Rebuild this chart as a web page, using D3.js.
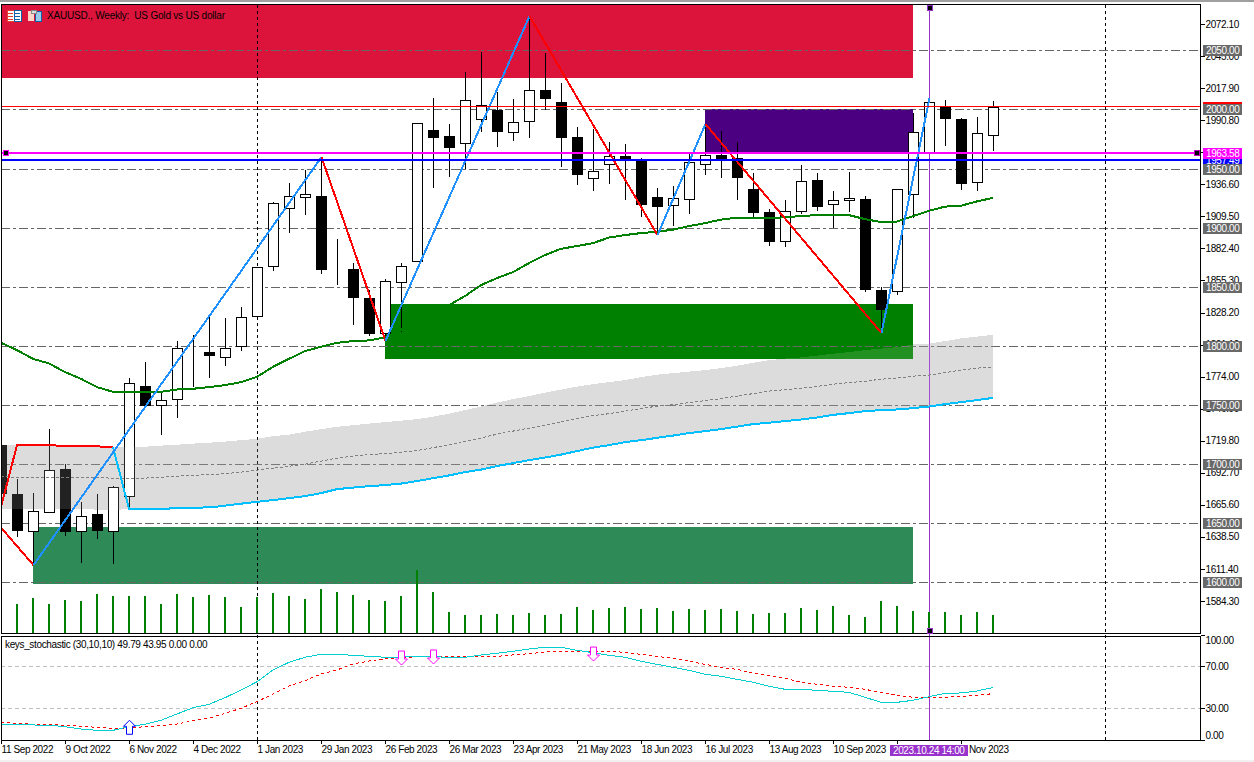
<!DOCTYPE html>
<html>
<head>
<meta charset="utf-8">
<script src="https://cdnjs.cloudflare.com/ajax/libs/d3/7.8.5/d3.min.js"></script>
<style>
    html, body { margin: 0; padding: 0; background: #fff; overflow: hidden; }
    text { font-family: "Liberation Sans", sans-serif; font-size: 10px; letter-spacing: -0.4px; }
    .axis text { font-family: "Liberation Sans", sans-serif; font-size: 10px; fill: #000; }
    .crisp { shape-rendering: crispEdges; }
</style>
</head>
<body>
<div id="chart"></div>
<script>
const opens = [1716.0,1674.6,1643.0,1659.1,1695.7,1643.8,1657.6,1643.0,1673.4,1765.9,1749.2,1754.6,1796.1,1794.7,1790.2,1799.8,1824.9,1867.2,1916.3,1925.6,1926.7,1864.7,1864.9,1840.1,1810.8,1853.7,1871.4,1982.3,1977.4,1971.2,1991.5,1999.4,1980.5,1989.8,2016.3,2006.2,1976.6,1941.6,1953.5,1960.5,1956.5,1925.8,1918.8,1923.5,1953.5,1961.3,1958.5,1932.3,1912.9,1888.3,1913.7,1940.0,1919.6,1922.7,1923.9,1847.2,1846.1,1928.1,1964.1,2002.6,1991.5,1937.9,1977.7]
const highs = [1716.0,1687.2,1675.4,1729.3,1699.9,1667.8,1674.6,1681.3,1772.4,1786.2,1761.1,1804.0,1809.6,1824.0,1823.4,1832.7,1866.3,1921.6,1937.7,1948.7,1958.8,1890.3,1869.7,1847.2,1856.2,1869.7,1988.2,2009.6,1987.6,2031.6,2048.5,2014.9,2008.7,2078.9,2047.4,2022.0,1985.0,1983.3,1972.3,1970.6,1958.5,1933.4,1935.1,1962.2,1987.3,1981.6,1972.1,1946.1,1915.4,1923.3,1952.9,1946.1,1930.9,1947.0,1926.4,1849.4,1932.3,1996.6,2009.3,2007.9,1992.7,1993.5,2007.0]
const lows = [1675.4,1638.4,1614.5,1659.1,1639.0,1616.4,1636.7,1615.6,1662.1,1749.6,1724.7,1739.1,1764.8,1772.9,1783.1,1795.8,1824.9,1863.5,1895.6,1910.9,1860.7,1851.4,1817.8,1808.2,1804.2,1811.4,1871.4,1933.7,1943.0,1949.5,1981.0,1968.4,1973.4,1976.0,1999.7,1951.5,1936.2,1931.1,1937.0,1923.5,1909.1,1893.7,1901.5,1911.7,1944.7,1942.1,1923.5,1908.6,1884.6,1883.8,1911.7,1914.2,1899.8,1913.4,1845.7,1810.5,1843.2,1907.8,1964.1,1969.2,1931.7,1930.9,1964.7]
const closes = [1675.4,1644.4,1659.9,1694.6,1643.5,1656.5,1644.4,1680.2,1769.0,1749.6,1753.8,1797.8,1796.1,1792.4,1797.8,1824.0,1866.3,1920.5,1926.4,1928.1,1865.2,1864.7,1841.5,1810.2,1854.5,1867.2,1988.2,1976.8,1968.4,2007.6,2003.4,1981.9,1989.0,2016.1,2009.8,1976.8,1945.5,1947.5,1960.2,1957.7,1920.1,1918.4,1924.7,1955.2,1961.1,1957.7,1942.1,1912.5,1888.0,1913.7,1939.1,1917.6,1923.0,1924.7,1847.8,1831.1,1932.3,1980.5,2006.0,1992.1,1937.0,1979.7,2001.7]

// tick volume, thousands, first bar has none on screen
const volumes = [0,29,35,29,33,32,39,37,37,37,29,39,36,38,36,26,36,40,37,34,44,41,38,33,32,37,63,41,21,18,18,19,18,20,18,19,26,23,25,26,24,25,22,24,23,24,22,19,20,20,25,23,27,18,16,32,27,22,21,21,18,21,18]

const ma = [1802.6,1796.4,1789.0,1785.1,1777.8,1772.1,1765.1,1761.1,1761.1,1761.1,1761.1,1763.1,1763.7,1765.1,1766.8,1769.3,1773.8,1782.3,1789.0,1795.6,1799.2,1802.6,1804.0,1804.6,1807.1,1813.3,1823.5,1831.9,1834.5,1842.1,1851.4,1857.3,1862.4,1870.0,1876.8,1882.1,1884.4,1886.9,1891.6,1893.7,1895.4,1896.5,1898.3,1901.3,1903.8,1906.8,1908.5,1908.3,1908.1,1908.7,1909.8,1910.6,1910.6,1910.6,1907.2,1904.7,1905.1,1909.8,1914.2,1917.8,1918.5,1922.2,1925.2]

const bandTop = [1716.0,1716.0,1716.0,1715.8,1715.6,1715.3,1715.0,1714.3,1714.6,1714.7,1715.6,1716.4,1717.3,1718.1,1719.0,1720.2,1721.3,1723.6,1724.9,1727.4,1729.5,1731.5,1732.9,1734.2,1735.5,1736.7,1738.0,1740.1,1742.6,1745.6,1748.6,1752.0,1754.9,1757.5,1760.4,1763.0,1765.5,1767.6,1769.3,1771.0,1773.5,1775.6,1776.9,1778.2,1779.5,1781.1,1783.2,1785.6,1787.9,1789.2,1790.2,1791.7,1793.4,1794.7,1796.4,1797.7,1798.9,1801.2,1802.0,1804.0,1806.3,1807.8,1809.3]
const bandMid = [1689.2,1688.9,1688.9,1688.9,1688.5,1688.5,1688.5,1688.1,1688.1,1688.1,1688.9,1689.8,1690.6,1691.0,1691.9,1693.2,1694.9,1696.5,1698.2,1699.9,1702.5,1705.0,1706.7,1708.0,1708.8,1710.1,1711.4,1713.9,1716.4,1719.4,1722.0,1725.3,1727.9,1730.4,1732.9,1735.5,1738.4,1741.0,1742.6,1744.8,1746.9,1749.0,1750.3,1752.0,1753.7,1755.3,1757.5,1759.6,1761.7,1763.0,1764.0,1765.7,1767.6,1768.9,1770.1,1771.8,1772.7,1774.4,1775.2,1777.3,1779.5,1781.1,1782.2]
const bandBottom = [1661.9,1661.9,1661.9,1661.9,1661.9,1661.9,1661.5,1661.0,1662.1,1662.1,1662.1,1662.7,1663.2,1663.3,1664.8,1666.5,1668.1,1669.5,1671.2,1672.9,1675.4,1678.8,1680.1,1681.3,1682.2,1683.5,1685.6,1688.1,1690.4,1693.2,1695.3,1698.3,1700.8,1703.3,1705.5,1708.0,1711.0,1713.9,1716.0,1718.6,1720.2,1722.2,1724.1,1726.2,1727.9,1729.5,1731.7,1733.8,1735.0,1736.3,1737.7,1739.4,1741.6,1743.1,1744.8,1745.6,1746.2,1747.3,1748.7,1750.7,1752.4,1754.1,1756.0]

// upper band trail while price sat under it, first 8 bars
const trailDown = [1663.8,1716.0,1716.0,1715.8,1715.6,1715.3,1715.0,1714.3]

const zigzagIdx = [0,2,20,24,33,41,44,55,58]
const zigzagPrice = [1645.8,1614.5,1959.7,1804.2,2078.9,1893.7,1987.6,1810.8,2009.6]

const stochMain = [14.1,14.1,14.1,14.0,12.5,10.3,9.0,9.0,12.5,14.8,18.6,24.6,30.6,33.8,40.1,47.4,55.3,66.5,73.8,78.6,81.4,81.4,80.5,79.5,78.6,78.6,79.5,79.1,78.6,78.6,80.8,82.4,84.3,86.5,88.1,88.1,85.2,83.0,80.5,78.6,74.8,71.9,69.0,66.2,62.4,60.5,57.6,54.8,51.0,48.1,48.1,47.1,46.2,45.2,40.5,35.7,35.7,37.6,41.0,44.3,44.6,46.5,49.79]
const stochSignal = [16.7,15.7,14.8,14.8,13.8,12.9,11.9,11.0,11.2,12.5,13.4,15.0,18.2,20.5,25.2,30.0,36.3,43.6,51.2,56.3,62.7,66.5,72.2,75.0,77.2,78.2,79.1,79.5,79.1,79.1,79.1,79.5,80.8,82.0,83.6,84.3,84.3,84.3,84.3,83.3,81.4,79.5,77.6,74.8,71.9,69.0,67.1,63.3,61.4,58.6,54.8,52.9,51.0,50.0,48.1,45.0,42.4,40.5,40.5,40.5,41.4,42.4,43.95]

const arrowUpIdx = [8]
const arrowUpVal = [18.6]
const arrowDownIdx = [25,27,37]
const arrowDownVal = [71.2,72.2,75.0]

const priceTicks = [2072.1,2045,2017.9,1990.8,1963.7,1936.6,1909.5,1882.4,1855.3,1828.2,1801.1,1774,1746.9,1719.8,1692.7,1665.6,1638.5,1611.4,1584.3]
const roundLevels = [2050,2000,1950,1900,1850,1800,1750,1700,1650,1600]
const stochTicks = [100,70,30,0]

const dateLabels = ["11 Sep 2022","9 Oct 2022","6 Nov 2022","4 Dec 2022","1 Jan 2023","29 Jan 2023","26 Feb 2023","26 Mar 2023","23 Apr 2023","21 May 2023","18 Jun 2023","16 Jul 2023","13 Aug 2023","10 Sep 2023","8 Oct 2023","5 Nov 2023"]

const zoneNames = ["crimson","indigo","green","seagreen"]
const zoneFrom = [0,44,24,2]
const zoneTo = [57,57,57,57]
const zoneHigh = [2092,2000,1835.3,1646.6]
const zoneLow = [2026.5,1963.58,1789,1598.7]

const separators = [16,69]
const crossIdx = 58
const crossLabel = "2023.10.24 14:00"
const redLevel = 2002.2, magentaLevel = 1963.58, blueLevel = 1957.49

const width = 1254, height = 762
const plotLeft = 1, plotRight = 1200.5, plotTop = 4.5, mainBottom = 633.5, subTop = 636.5, subBottom = 740.5

const x = d3.scaleLinear().domain([0, 75]).range([1, 1201])
const y = d3.scaleLinear().domain([1600, 2050]).range([582.3, 50.3])
const yVol = d3.scaleLinear().domain([0, 63]).range([633, 570])
const ySub = d3.scaleLinear().domain([0, 100]).range([739.8, 634.8])

const svg = d3.select("#chart").append("svg")
    .attr("width", width)
    .attr("height", height)
    .style("display", "block")

svg.append("rect").attr("width", width).attr("height", height).attr("fill", "#fff")

svg.append("defs").append("clipPath").attr("id", "plotClip")
    .append("rect").attr("x", plotLeft).attr("y", plotTop).attr("width", plotRight - plotLeft).attr("height", subBottom - plotTop)

const plot = svg.append("g").attr("clip-path", "url(#plotClip)")

// gray channel goes first, zones sit on it
const bandArea = d3.area()
    .x((d, i) => x(i))
    .y0((d, i) => y(bandBottom[i]))
    .y1(d => y(d))

plot.append("path").datum(bandTop)
    .attr("class", "crisp")
    .attr("d", bandArea)
    .attr("fill", "#d7d7d7")

plot.selectAll(".zone")
    .data(zoneNames)
    .join("rect")
    .attr("class", "zone crisp")
    .attr("x", (d, i) => x(zoneFrom[i]))
    .attr("y", (d, i) => y(zoneHigh[i]))
    .attr("width", (d, i) => x(zoneTo[i]) - x(zoneFrom[i]))
    .attr("height", (d, i) => y(zoneLow[i]) - y(zoneHigh[i]))
    .attr("fill", (d, i) => ["#dc143c", "#4b0082", "#008000", "#2e8b57"][i])

plot.selectAll(".grid")
    .data(roundLevels)
    .join("line")
    .attr("class", "grid crisp")
    .attr("x1", plotLeft).attr("x2", plotRight - 1)
    .attr("y1", d => Math.round(y(d)) + 0.5)
    .attr("y2", d => Math.round(y(d)) + 0.5)
    .attr("stroke", "#666")
    .attr("stroke-dasharray", "9,3,3,3")

plot.selectAll(".subgrid")
    .data([70, 30])
    .join("line")
    .attr("class", "subgrid crisp")
    .attr("x1", plotLeft).attr("x2", plotRight - 1)
    .attr("y1", d => Math.round(ySub(d)) + 0.5)
    .attr("y2", d => Math.round(ySub(d)) + 0.5)
    .attr("stroke", "#c0c0c0")
    .attr("stroke-dasharray", "4,3")

plot.selectAll(".sep")
    .data(separators)
    .join("line")
    .attr("class", "sep crisp")
    .attr("x1", d => x(d) + 0.5).attr("x2", d => x(d) + 0.5)
    .attr("y1", plotTop).attr("y2", subBottom)
    .attr("stroke", "#000")
    .attr("stroke-dasharray", "3,3")

plot.append("line")
    .attr("class", "crisp")
    .attr("x1", x(crossIdx) + 0.5).attr("x2", x(crossIdx) + 0.5)
    .attr("y1", plotTop).attr("y2", subBottom)
    .attr("stroke", "#9932cc")

// candles
const bars = d3.range(opens.length)

plot.selectAll(".vol")
    .data(bars.filter(i => volumes[i] > 0))
    .join("line")
    .attr("class", "vol crisp")
    .attr("x1", i => x(i)).attr("x2", i => x(i))
    .attr("y1", i => yVol(volumes[i])).attr("y2", yVol(0))
    .attr("stroke", "#008000")
    .attr("stroke-width", 2)

plot.selectAll(".wick")
    .data(bars)
    .join("line")
    .attr("class", "wick crisp")
    .attr("x1", i => x(i) + 0.5).attr("x2", i => x(i) + 0.5)
    .attr("y1", i => y(highs[i])).attr("y2", i => y(lows[i]))
    .attr("stroke", "#000")

plot.selectAll(".body")
    .data(bars)
    .join("rect")
    .attr("class", "body crisp")
    .attr("x", i => x(i) - 4.5)
    .attr("width", 10)
    .attr("y", i => Math.round(y(Math.max(opens[i], closes[i]))) + 0.5)
    .attr("height", i => Math.round(Math.abs(y(opens[i]) - y(closes[i]))))
    .attr("fill", i => closes[i] > opens[i] ? "#fff" : "#000")
    .attr("stroke", "#000")

// black under the channel shows up lifted, same for the green zone
plot.append("path").datum(bandTop)
    .attr("class", "crisp")
    .attr("d", bandArea)
    .attr("fill", "#222")
    .style("mix-blend-mode", "screen")

const priceLine = d3.line().x((d, i) => x(i)).y(d => y(d))

plot.append("path").datum(bandMid)
    .attr("class", "crisp")
    .attr("d", priceLine)
    .attr("fill", "none")
    .attr("stroke", "#808080")
    .attr("stroke-dasharray", "3,2")

plot.append("path").datum(ma)
    .attr("class", "crisp")
    .attr("d", priceLine)
    .attr("fill", "none")
    .attr("stroke", "#008000")
    .attr("stroke-width", 2)

plot.append("path").datum(trailDown)
    .attr("class", "crisp")
    .attr("d", priceLine)
    .attr("fill", "none")
    .attr("stroke", "#ff0000")
    .attr("stroke-width", 2)

// lower band, joined to the last point of the red trail
const trailUp = d3.line()
    .x(i => x(i))
    .y(i => y(i === 7 ? trailDown[7] : bandBottom[i]))

plot.append("path").datum(d3.range(7, bandBottom.length))
    .attr("class", "crisp")
    .attr("d", trailUp)
    .attr("fill", "none")
    .attr("stroke", "#00bfff")
    .attr("stroke-width", 2)

plot.selectAll(".zigzag")
    .data(zigzagIdx.slice(1))
    .join("line")
    .attr("class", "zigzag crisp")
    .attr("x1", (d, i) => x(zigzagIdx[i]) + 0.5)
    .attr("y1", (d, i) => y(zigzagPrice[i]))
    .attr("x2", (d, i) => x(zigzagIdx[i + 1]) + 0.5)
    .attr("y2", (d, i) => y(zigzagPrice[i + 1]))
    .attr("stroke", (d, i) => zigzagPrice[i + 1] > zigzagPrice[i] ? "#1e90ff" : "#ff0000")
    .attr("stroke-width", 2)

const levels = plot.append("g")
levels.append("line").attr("class", "crisp")
    .attr("x1", plotLeft).attr("x2", plotRight)
    .attr("y1", Math.floor(y(redLevel)) + 0.5).attr("y2", Math.floor(y(redLevel)) + 0.5)
    .attr("stroke", "#ff0000")
levels.append("line").attr("class", "crisp")
    .attr("x1", plotLeft).attr("x2", plotRight)
    .attr("y1", y(magentaLevel) + 0.5).attr("y2", y(magentaLevel) + 0.5)
    .attr("stroke", "#ff00ff").attr("stroke-width", 2)
levels.append("line").attr("class", "crisp")
    .attr("x1", plotLeft).attr("x2", plotRight)
    .attr("y1", y(blueLevel) + 0.3).attr("y2", y(blueLevel) + 0.3)
    .attr("stroke", "#0000ff").attr("stroke-width", 2)

// stochastic pane
const subLine = d3.line().x((d, i) => x(i)).y(d => ySub(d))

plot.append("path").datum(stochSignal)
    .attr("class", "crisp")
    .attr("d", subLine)
    .attr("fill", "none")
    .attr("stroke", "#ff0000")
    .attr("stroke-dasharray", "3,3")

plot.append("path").datum(stochMain)
    .attr("class", "crisp")
    .attr("d", subLine)
    .attr("fill", "none")
    .attr("stroke", "#00ced1")

function arrowPath(px, py, dir) {
    // dir -1 tip up, 1 tip down, py is the tip
    const p = d3.path()
    p.moveTo(px, py)
    p.lineTo(px + 6, py - dir * 6)
    p.lineTo(px + 3, py - dir * 6)
    p.lineTo(px + 3, py - dir * 14)
    p.lineTo(px - 3, py - dir * 14)
    p.lineTo(px - 3, py - dir * 6)
    p.lineTo(px - 6, py - dir * 6)
    p.closePath()
    return p.toString()
}

plot.selectAll(".arrowUp")
    .data(arrowUpIdx)
    .join("path")
    .attr("class", "arrowUp")
    .attr("d", (d, i) => arrowPath(x(d) + 0.5, ySub(arrowUpVal[i]), -1))
    .attr("fill", "#fff")
    .attr("stroke", "#0000ff")

plot.selectAll(".arrowDown")
    .data(arrowDownIdx)
    .join("path")
    .attr("class", "arrowDown")
    .attr("d", (d, i) => arrowPath(x(d) + 0.5, ySub(arrowDownVal[i]), 1))
    .attr("fill", "#fff")
    .attr("stroke", "#ff00ff")

// pane frames
const frame = svg.append("g").attr("class", "crisp").attr("fill", "none").attr("stroke", "#000")
frame.append("rect").attr("x", plotLeft + 0.5).attr("y", plotTop).attr("width", plotRight - plotLeft - 0.5).attr("height", mainBottom - plotTop)
frame.append("rect").attr("x", plotLeft + 0.5).attr("y", subTop).attr("width", plotRight - plotLeft - 0.5).attr("height", subBottom - subTop)

// axes
const priceAxis = svg.append("g")
    .attr("class", "axis crisp")
    .attr("transform", `translate(${plotRight},0)`)
    .call(d3.axisRight(y).tickValues(priceTicks).tickFormat(d3.format(".2f")).tickSize(4).tickPadding(1))
priceAxis.select(".domain").remove()

const subAxis = svg.append("g")
    .attr("class", "axis crisp")
    .attr("transform", `translate(${plotRight},0)`)
    .call(d3.axisRight(ySub).tickValues(stochTicks).tickFormat(d3.format(".2f")).tickSize(4).tickPadding(1))
subAxis.select(".domain").remove()
subAxis.selectAll("text").attr("transform", d => d === 100 ? "translate(0,5)" : d === 0 ? "translate(0,-5)" : null)

const timeAxis = svg.append("g")
    .attr("class", "axis crisp")
    .attr("transform", `translate(0,${subBottom})`)
    .call(d3.axisBottom(x)
        .tickValues(dateLabels.map((d, i) => i * 4))
        .tickFormat((d, i) => dateLabels[i])
        .tickSize(3)
        .tickPadding(2))
timeAxis.select(".domain").remove()
timeAxis.selectAll("text").attr("text-anchor", "start")

// price tags on the scale, drawn over the tick labels
const tagLayer = svg.append("g")

function priceTag(py, color, label) {
    tagLayer.append("rect").attr("class", "crisp")
        .attr("x", 1203).attr("y", Math.round(py) - 5)
        .attr("width", 39).attr("height", 11)
        .attr("fill", color)
    tagLayer.append("text")
        .attr("x", 1206).attr("y", Math.round(py) + 4.2)
        .attr("fill", "#fff")
        .text(label)
}

priceTag(y(redLevel) - 0.2, "#ff0000", "")
priceTag(y(blueLevel) + 0.4, "#0000ff", blueLevel.toFixed(2))
roundLevels.forEach(d => priceTag(y(d), "#696969", d.toFixed(2)))
priceTag(y(magentaLevel) + 0.5, "#ff00ff", magentaLevel.toFixed(2))

// handles of the selected objects
const handles = svg.append("g").attr("class", "crisp")

function handle(px, py, color) {
    handles.append("rect")
        .attr("x", px - 2.5).attr("y", py - 2.5)
        .attr("width", 5).attr("height", 5)
        .attr("fill", "#000")
        .attr("stroke", color)
}

handle(5.5, y(magentaLevel) + 0.5, "#ff00ff")
handle(1196.5, y(magentaLevel) + 0.5, "#c000c0")
handle(x(crossIdx) + 0.5, 7.5, "#9932cc")
handle(x(crossIdx) + 0.5, 630.5, "#9932cc")

svg.append("rect").attr("class", "crisp")
    .attr("x", 890).attr("y", 745)
    .attr("width", 78).attr("height", 11)
    .attr("fill", "#9932cc")
svg.append("text")
    .attr("x", 893).attr("y", 754)
    .attr("fill", "#fff")
    .text(crossLabel)

// title row, the two little toolbar icons are drawn by hand
const icons = svg.append("g").attr("class", "crisp")
icons.append("rect").attr("x", 7).attr("y", 10).attr("width", 7).attr("height", 11).attr("fill", "#fff").attr("stroke", "#e04030")
icons.append("rect").attr("x", 14).attr("y", 10).attr("width", 7).attr("height", 11).attr("fill", "#fff").attr("stroke", "#1060a8")
;[13, 16, 19].forEach(v => {
    icons.append("line").attr("x1", 8).attr("x2", 13).attr("y1", v).attr("y2", v).attr("stroke", "#e04030")
    icons.append("line").attr("x1", 15).attr("x2", 20).attr("y1", v).attr("y2", v).attr("stroke", "#1060a8")
})
icons.append("rect").attr("x", 28).attr("y", 11).attr("width", 6).attr("height", 10).attr("fill", "#fbd5c8")
icons.append("rect").attr("x", 35).attr("y", 11).attr("width", 6).attr("height", 10).attr("fill", "#9ccbea").attr("stroke", "#1060a8")
icons.append("rect").attr("x", 31).attr("y", 10).attr("width", 5).attr("height", 3).attr("fill", "#ddd").attr("stroke", "#888")

svg.append("text")
    .attr("x", 47).attr("y", 19)
    .attr("fill", "#000")
    .style("white-space", "pre")
    .style("letter-spacing", "-0.2px")
    .text("XAUUSD., Weekly:  US Gold vs US dollar")

svg.append("text")
    .attr("x", 5).attr("y", 648)
    .attr("fill", "#000")
    .style("letter-spacing", "-0.35px")
    .text("keys_stochastic (30,10,10) 49.79 43.95 0.00 0.00")

// window chrome at the edges
svg.append("rect").attr("class", "crisp").attr("x", 0).attr("y", 0).attr("width", width).attr("height", 2).attr("fill", "#a0a0a0")
svg.append("rect").attr("class", "crisp").attr("x", 0).attr("y", 760).attr("width", width).attr("height", 2).attr("fill", "#f0f0f0")
</script>
</body>
</html>
